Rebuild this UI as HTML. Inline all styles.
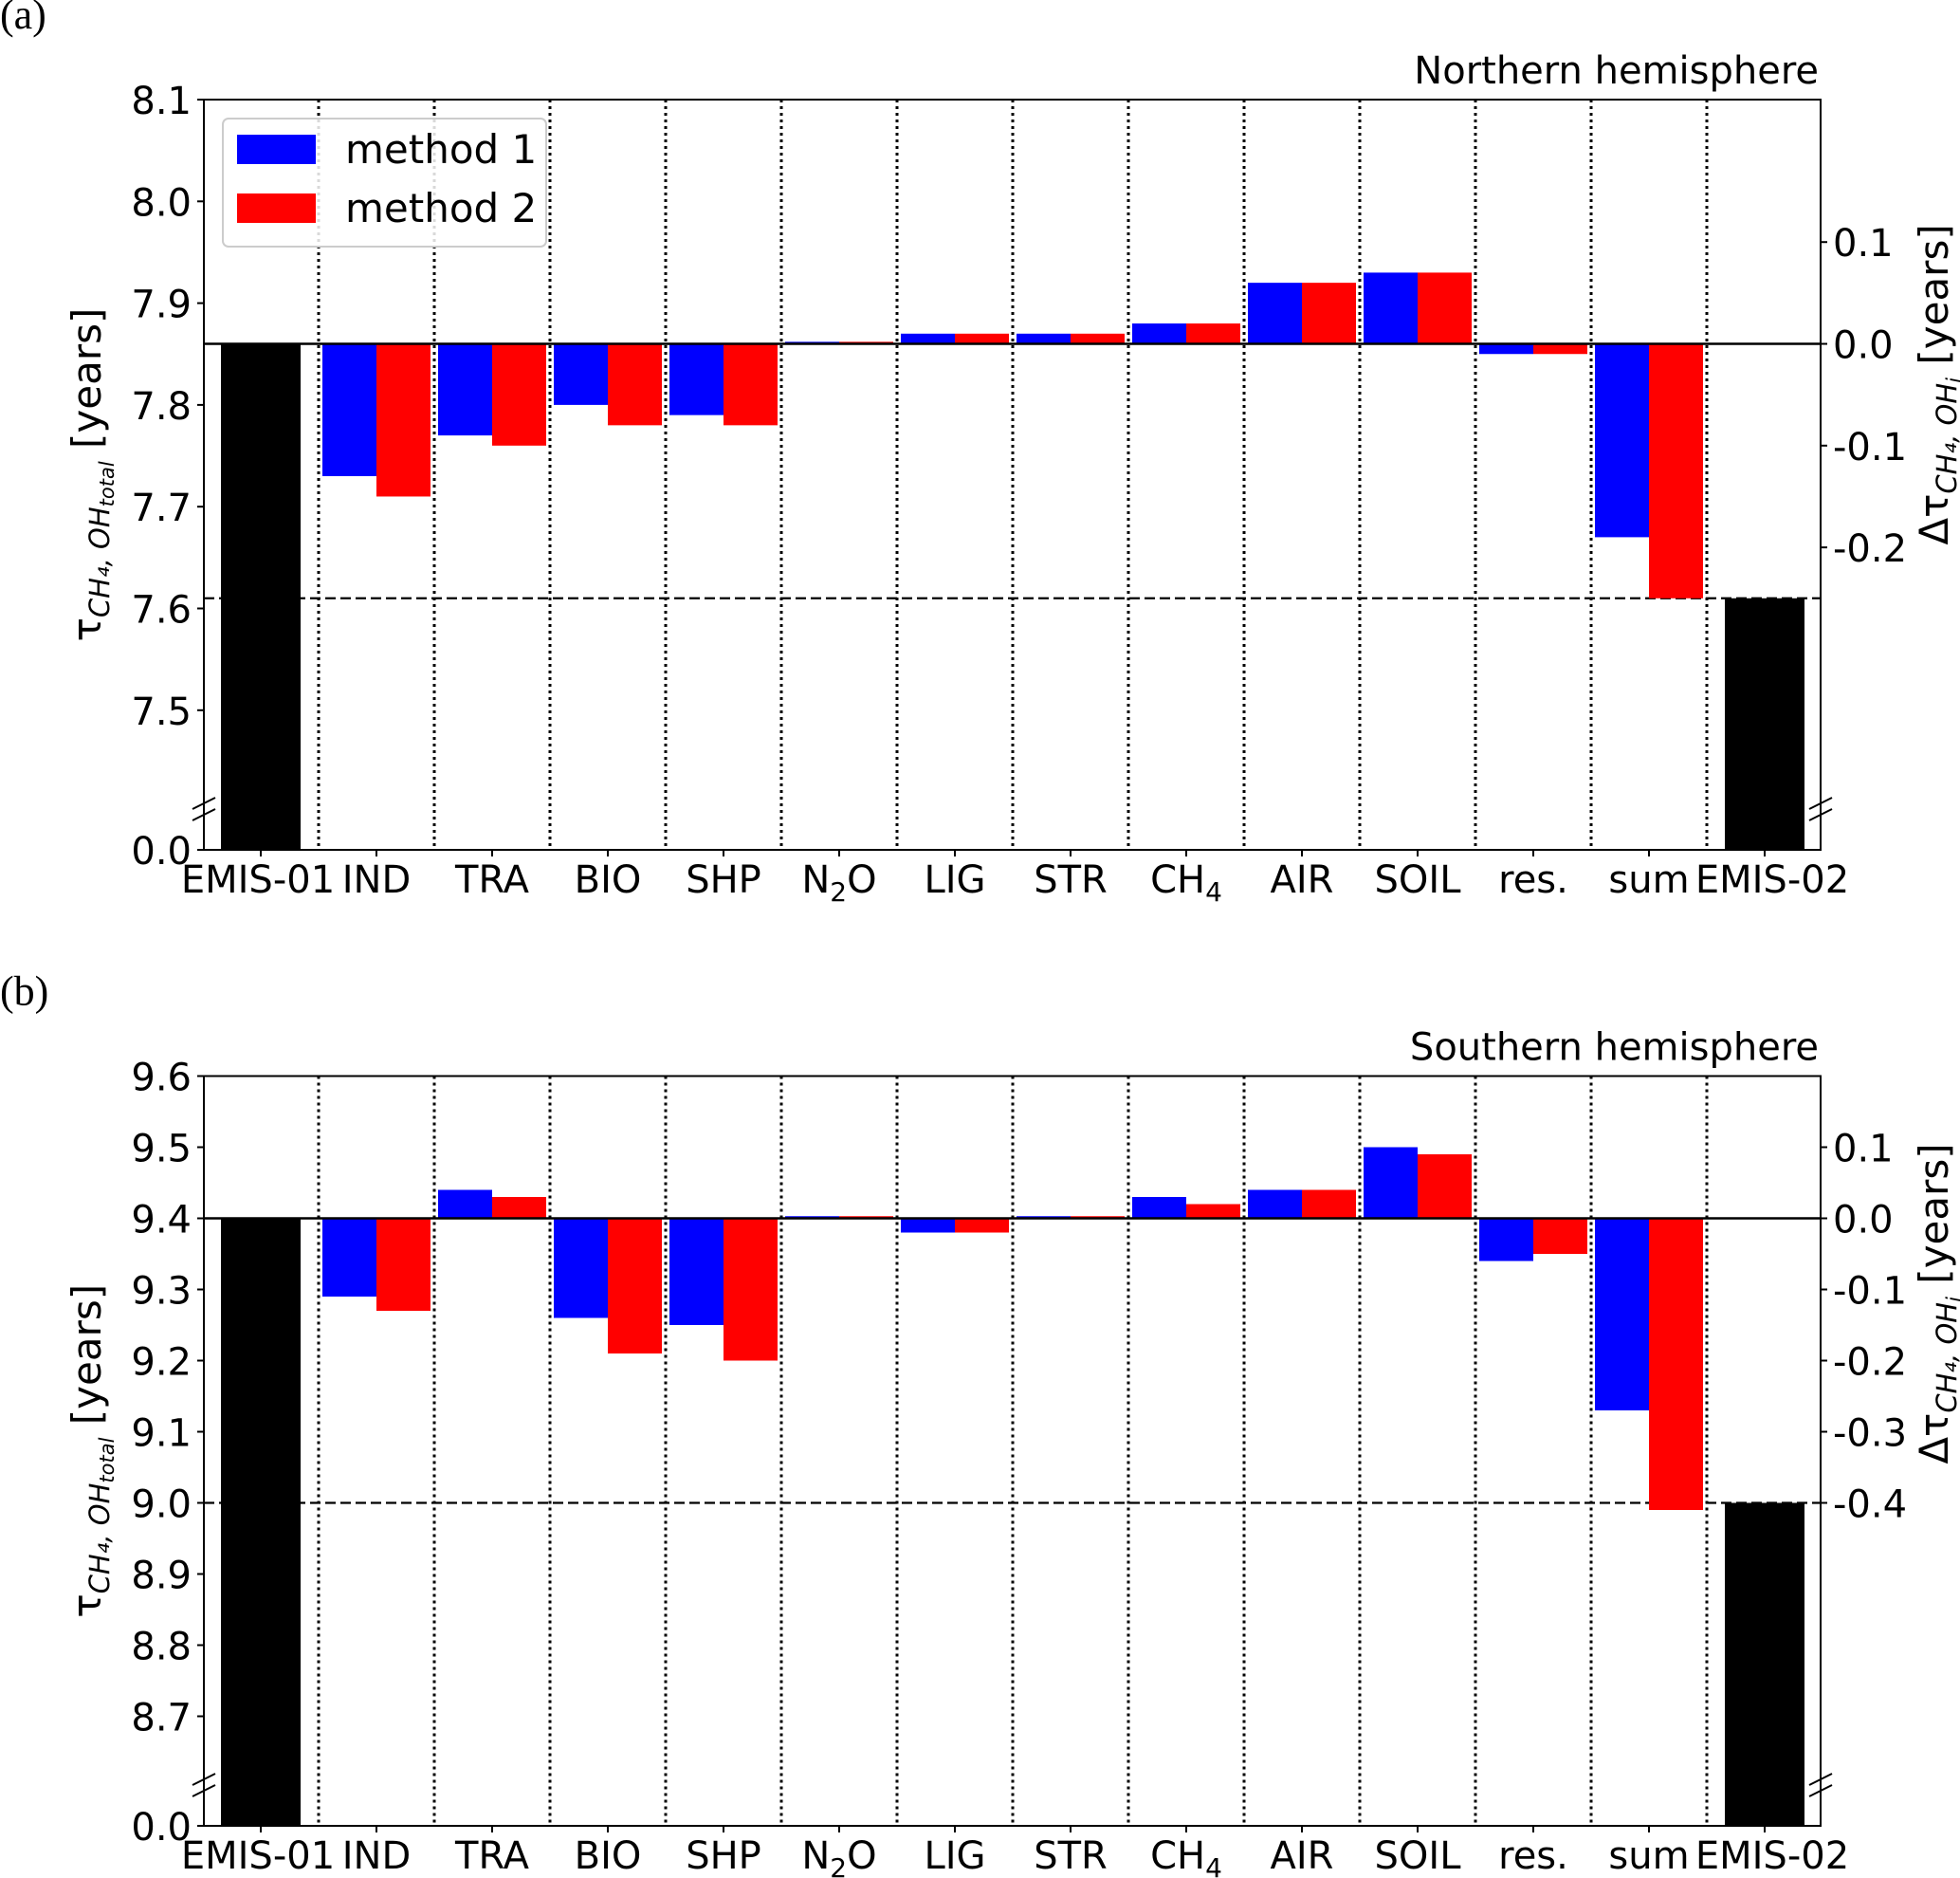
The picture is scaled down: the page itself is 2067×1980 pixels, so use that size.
<!DOCTYPE html>
<html><head><meta charset="utf-8"><style>
html,body{margin:0;padding:0;background:#fff;}
svg{display:block;font-family:"DejaVu Sans","Liberation Sans",sans-serif;}
</style></head><body>
<svg id="fig" width="2067" height="1980" viewBox="0 0 2067 1980" xmlns="http://www.w3.org/2000/svg"></svg>
<script>
const categories = ["EMIS-01","IND","TRA","BIO","SHP","N2O","LIG","STR","CH4","AIR","SOIL","res.","sum","EMIS-02"];
// Northern hemisphere (deltas, years)
const nhMethod1 = [-0.13,-0.09,-0.06,-0.07,0.002,0.01,0.01,0.02,0.06,0.07,-0.01,-0.19];
const nhMethod2 = [-0.15,-0.10,-0.08,-0.08,0.002,0.01,0.01,0.02,0.06,0.07,-0.01,-0.25];
const nhEmis = [7.86, 7.61];
const nhLeftTicks = [8.1,8.0,7.9,7.8,7.7,7.6,7.5];
const nhRightTicks = [0.1,0.0,-0.1,-0.2];
// Southern hemisphere
const shMethod1 = [-0.11,0.04,-0.14,-0.15,0.003,-0.02,0.003,0.03,0.04,0.10,-0.06,-0.27];
const shMethod2 = [-0.13,0.03,-0.19,-0.20,0.003,-0.02,0.003,0.02,0.04,0.09,-0.05,-0.41];
const shEmis = [9.4, 9.0];
const shLeftTicks = [9.6,9.5,9.4,9.3,9.2,9.1,9.0,8.9,8.8,8.7];
const shRightTicks = [0.1,0.0,-0.1,-0.2,-0.3,-0.4];

const NS="http://www.w3.org/2000/svg";
const svg=document.getElementById('fig');
function el(tag,attrs,parent){const e=document.createElementNS(NS,tag);for(const k in attrs)e.setAttribute(k,attrs[k]);(parent||svg).appendChild(e);return e;}
const X0=215, X1=1920, FS=40;
function xs(i){return 275+122*i;}

function panel(p){
  const g=el('g',{});
  
  
  const ys=v=>p.top+(p.vmax-v)*p.k;
  const base=p.emis[0];
  const lt=el('text',{x:0,y:p.top-75,'font-size':44,'font-family':'"Liberation Serif",serif'},g);lt.textContent=p.letter;
  
  
  const tt=el('text',{x:1918,y:p.top-17,'font-size':FS,'text-anchor':'end'},g);tt.textContent=p.title;
  
  
  for(let i=0;i<13;i++){
    const l=el('line',{x1:xs(i)+61,x2:xs(i)+61,y1:p.top,y2:p.bottom,stroke:'#000','stroke-width':3,'stroke-dasharray':'3 4'},g);
    
    
  }
  const dl=el('line',{x1:X0,x2:X1,y1:ys(p.emis[1]),y2:ys(p.emis[1]),stroke:'#000','stroke-width':2.2,'stroke-dasharray':'11 5'},g);
  
  
  [0,13].forEach((ci,j)=>{
    const r=el('rect',{x:xs(ci)-42,width:84,y:ys(p.emis[j]),height:p.bottom-ys(p.emis[j]),fill:'#000'},g);
    
    
  });
  for(let i=0;i<12;i++){
    [[p.m1,'#0000ff',-1,'method1'],[p.m2,'#ff0000',0,'method2']].forEach(([arr,c,off,nm])=>{
      const v=arr[i], y0=ys(base), y1=ys(base+v);
      const r=el('rect',{x:xs(i+1)+off*57,width:57,y:Math.min(y0,y1),height:Math.max(1,Math.abs(y1-y0)),fill:c},g);
      
      
    });
  }
  const zl=el('line',{x1:X0,x2:X1,y1:ys(base),y2:ys(base),stroke:'#000','stroke-width':2.5},g);
  
  
  const fr=el('rect',{x:X0,y:p.top,width:X1-X0,height:p.bottom-p.top,fill:'none',stroke:'#000','stroke-width':2},g);
  
  
  [X0,X1].forEach(bx=>{
    for(const dy of [-49,-37]){
      el('line',{x1:bx-12,x2:bx+12,y1:p.bottom+dy+6,y2:p.bottom+dy-6,stroke:'#000','stroke-width':2},g);
    }
  });
  p.lt.forEach(v=>{
    const y=ys(v);
    el('line',{x1:X0-7,x2:X0,y1:y,y2:y,stroke:'#000','stroke-width':2},g);
    const t=el('text',{x:X0-13,y:y+15,'font-size':FS,'text-anchor':'end'},g);t.textContent=v.toFixed(1);
    
    
  });
  el('line',{x1:X0-7,x2:X0,y1:p.bottom,y2:p.bottom,stroke:'#000','stroke-width':2},g);
  const z=el('text',{x:X0-13,y:p.bottom+15,'font-size':FS,'text-anchor':'end'},g);z.textContent='0.0';
  
  
  p.rt.forEach(v=>{
    const y=ys(base+v);
    el('line',{x1:X1,x2:X1+7,y1:y,y2:y,stroke:'#000','stroke-width':2},g);
    const t=el('text',{x:X1+13,y:y+15,'font-size':FS},g);t.textContent=(Math.abs(v)<1e-9?'0.0':v.toFixed(1));
    
    
  });
  categories.forEach((c,i)=>{
    el('line',{x1:xs(i),x2:xs(i),y1:p.bottom,y2:p.bottom+7,stroke:'#000','stroke-width':2},g);
    const t=el('text',{x:xs(i)+(i==0?-3:i==13?8:0),y:p.bottom+45,'font-size':FS,'text-anchor':'middle'},g);
    
    
    if(c==='N2O'||c==='CH4'){
      t.appendChild(document.createTextNode(c.slice(0,c.length-(c==='N2O'?2:1))));
      const s=el('tspan',{'font-size':28,dy:9},t);s.textContent=c==='N2O'?'2':'4';
      if(c==='N2O'){const o=el('tspan',{dy:-9},t);o.textContent='O';}
    } else t.textContent=c;
  });
  const mid=(p.top+p.bottom)/2;
  const yl=el('text',{transform:`translate(106 ${mid}) rotate(-90)`,'font-size':42,'text-anchor':'middle'},g);
  
  
  yl.innerHTML='τ<tspan font-size="29" font-style="italic" dy="9">CH₄, OH</tspan><tspan font-size="21" font-style="italic" dy="5">total</tspan><tspan dy="-14"> [years]</tspan>';
  const rmid=ys(base+p.rmid);
  const yr=el('text',{transform:`translate(2054 ${rmid}) rotate(-90)`,'font-size':42,'text-anchor':'middle'},g);
  
  
  yr.innerHTML='Δτ<tspan font-size="29" font-style="italic" dy="9">CH₄, OH</tspan><tspan font-size="21" font-style="italic" dy="5">i</tspan><tspan dy="-14"> [years]</tspan>';
}

panel({name:'panel-a-northern',letter:'(a)',title:'Northern hemisphere',top:105,bottom:896,vmax:8.1,k:1073,
  emis:nhEmis,m1:nhMethod1,m2:nhMethod2,lt:nhLeftTicks,rt:nhRightTicks,rmid:-0.04});
panel({name:'panel-b-southern',letter:'(b)',title:'Southern hemisphere',top:1134.5,bottom:1925,vmax:9.6,k:750,
  emis:shEmis,m1:shMethod1,m2:shMethod2,lt:shLeftTicks,rt:shRightTicks,rmid:-0.12});

const lg=el('g',{});


el('rect',{x:235,y:125,width:341,height:135,rx:6,fill:'#fff','fill-opacity':0.85,stroke:'#ccc','stroke-width':2},lg);
[['#0000ff','method 1',142],['#ff0000','method 2',204]].forEach(([c,t,y])=>{
  const r=el('rect',{x:250,y:y,width:83,height:31,fill:c},lg);
  
  
  const tx=el('text',{x:364,y:y+30,'font-size':42},lg);tx.textContent=t;
  
  
});
</script>
</body></html>
